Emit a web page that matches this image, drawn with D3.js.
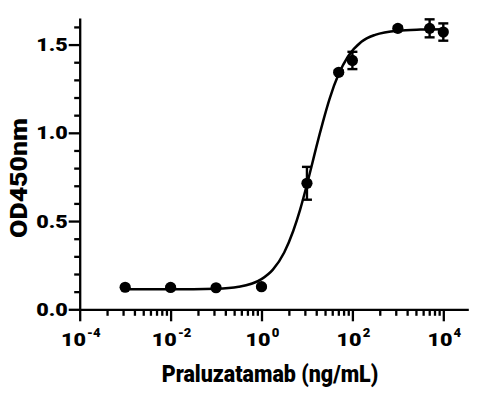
<!DOCTYPE html>
<html>
<head>
<meta charset="utf-8">
<script src="https://cdn.jsdelivr.net/npm/d3@7"></script>
<style>
  html, body { margin: 0; padding: 0; background: #fff; }
  svg { display: block; }
  text { font-family: Roboto, "Liberation Sans", sans-serif; font-weight: 900; fill: #000; }
</style>
</head>
<body>
<svg id="chart" width="484" height="396"></svg>
<script>
// ---- data ----
const concentrations = [0.001, 0.01, 0.1, 1, 10, 50, 100, 1000, 5000, 10000];
const meanOD = [0.125, 0.124, 0.122, 0.128, 0.714, 1.343, 1.410, 1.592, 1.592, 1.571];
const sdOD = [0.005, 0.005, 0.005, 0.005, 0.093, 0.010, 0.049, 0.010, 0.051, 0.049];

// fitted curve
const curveConc = [0.001, 0.01, 0.1, 0.316, 1, 1.78, 3.16, 5.01, 7.08, 10, 12.6, 15.8, 22.4, 31.6, 50.1, 79.4, 158, 316, 1000, 3162, 10000];
const curveOD = [0.113, 0.113, 0.117, 0.128, 0.171, 0.225, 0.322, 0.445, 0.565, 0.707, 0.809, 0.912, 1.061, 1.194, 1.334, 1.431, 1.516, 1.555, 1.579, 1.585, 1.587];

const xMajorTicks = [1e-4, 1e-2, 1e0, 1e2, 1e4];
const xTickBase = ["10", "10", "10", "10", "10"];
const xTickExp = ["-4", "-2", "0", "2", "4"];
const yMajorTicks = [0, 0.5, 1.0, 1.5];
const yTickLabels = ["0.0", "0.5", "1.0", "1.5"];
const yMinorTicks = [0.1, 0.2, 0.3, 0.4, 0.6, 0.7, 0.8, 0.9, 1.1, 1.2, 1.3, 1.4, 1.6];
const xTitle = "Praluzatamab (ng/mL)";
const yTitle = "OD450nm";

(function () {
// ---- layout ----
const svg = d3.select("#chart");
const pLeft = 79.7, pRight = 468.3, pTop = 18.1, pBottom = 309.3;

const x = d3.scaleLog().domain([1e-4, Math.pow(10, 4.55)]).range([pLeft, pRight]);
const y = d3.scaleLinear().domain([0, 1.65]).range([pBottom, pTop]);

// minor x ticks: Prism-style, m^2 within each two-decade block
const xMinorTicks = [];
[-4, -2, 0, 2].forEach(k => {
  for (let m = 2; m <= 9; m++) {
    const v = Math.pow(10, k) * m * m;
    if (v <= x.domain()[1]) xMinorTicks.push(v);
  }
});

const sw = 2.3;

svg.append("g")
  .attr("transform", `translate(0,${pBottom})`)
  .call(d3.axisBottom(x).tickValues(xMinorTicks).tickSize(6.5).tickFormat(""))
  .call(g => g.select(".domain").remove())
  .call(g => g.selectAll("line").attr("stroke", "#000").attr("stroke-width", sw));

svg.append("g")
  .attr("transform", `translate(0,${pBottom})`)
  .call(d3.axisBottom(x).tickValues(xMajorTicks).tickSize(12).tickSizeOuter(0).tickFormat(""))
  .call(g => g.select(".domain").attr("stroke", "#000").attr("stroke-width", sw))
  .call(g => g.selectAll("line").attr("stroke", "#000").attr("stroke-width", sw));

svg.append("g")
  .attr("transform", `translate(${pLeft},0)`)
  .call(d3.axisLeft(y).tickValues(yMinorTicks).tickSize(5.5).tickFormat(""))
  .call(g => g.select(".domain").remove())
  .call(g => g.selectAll("line").attr("stroke", "#000").attr("stroke-width", sw));

svg.append("g")
  .attr("transform", `translate(${pLeft},0)`)
  .call(d3.axisLeft(y).tickValues(yMajorTicks).tickSize(11).tickSizeOuter(0).tickFormat(""))
  .call(g => g.select(".domain").attr("stroke", "#000").attr("stroke-width", sw))
  .call(g => g.selectAll("line").attr("stroke", "#000").attr("stroke-width", sw));

// y tick labels
svg.append("g").selectAll("text")
  .data(yMajorTicks)
  .join("text")
  .attr("x", 67.8)
  .attr("y", d => y(d) + 6.6)
  .attr("text-anchor", "end")
  .attr("font-size", 18.5)
  .attr("textLength", 31.5)
  .attr("lengthAdjust", "spacingAndGlyphs")
  .text((d, i) => yTickLabels[i]);

// x tick labels with superscripts
const xl = svg.append("g");
xMajorTicks.forEach((t, i) => {
  const baseW = 25, gap = 1.2;
  const supW = xTickExp[i].length > 1 ? 13.4 : 7.6;
  const total = baseW + gap + supW;
  const x0 = x(t) - total / 2 + 1;
  xl.append("text")
    .attr("x", x0).attr("y", 346.4)
    .attr("font-size", 19)
    .attr("textLength", baseW).attr("lengthAdjust", "spacingAndGlyphs")
    .text(xTickBase[i]);
  xl.append("text")
    .attr("x", x0 + baseW + gap).attr("y", 336.8)
    .attr("font-size", 13)
    .attr("textLength", supW).attr("lengthAdjust", "spacingAndGlyphs")
    .text(xTickExp[i]);
});

// axis titles
svg.append("text")
  .attr("x", 161.7).attr("y", 382)
  .attr("font-size", 23)
  .attr("textLength", 216.6).attr("lengthAdjust", "spacingAndGlyphs")
  .text(xTitle);

svg.append("text")
  .attr("transform", "translate(26.8,178) rotate(-90)")
  .attr("text-anchor", "middle")
  .attr("font-size", 23)
  .attr("textLength", 120).attr("lengthAdjust", "spacingAndGlyphs")
  .text(yTitle);

// fitted curve
const curvePts = curveConc.map((c, i) => [c, curveOD[i]]);
svg.append("path")
  .datum(curvePts)
  .attr("fill", "none")
  .attr("stroke", "#000")
  .attr("stroke-width", 2.5)
  .attr("d", d3.line().x(d => x(d[0])).y(d => y(d[1])).curve(d3.curveMonotoneX));

// error bars
const pts = concentrations.map((c, i) => ({ c, m: meanOD[i], s: sdOD[i] }));
const eb = svg.append("g").attr("stroke", "#000").attr("stroke-width", 2.4);
eb.selectAll("line.v").data(pts).join("line").attr("class", "v")
  .attr("x1", d => x(d.c)).attr("x2", d => x(d.c))
  .attr("y1", d => y(d.m - d.s)).attr("y2", d => y(d.m + d.s));
eb.selectAll("line.t").data(pts).join("line").attr("class", "t")
  .attr("x1", d => x(d.c) - 5).attr("x2", d => x(d.c) + 5)
  .attr("y1", d => y(d.m + d.s)).attr("y2", d => y(d.m + d.s));
eb.selectAll("line.b").data(pts).join("line").attr("class", "b")
  .attr("x1", d => x(d.c) - 5).attr("x2", d => x(d.c) + 5)
  .attr("y1", d => y(d.m - d.s)).attr("y2", d => y(d.m - d.s));

// markers
svg.append("g").selectAll("circle")
  .data(pts)
  .join("circle")
  .attr("cx", d => x(d.c))
  .attr("cy", d => y(d.m))
  .attr("r", 5.6)
  .attr("fill", "#000");
})();
</script>
</body>
</html>
